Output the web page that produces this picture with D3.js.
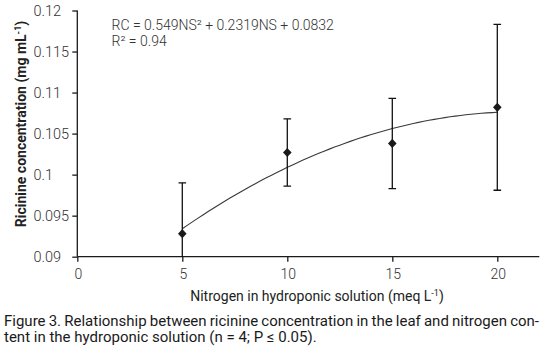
<!DOCTYPE html>
<html>
<head>
<meta charset="utf-8">
<script src="https://cdn.jsdelivr.net/npm/d3@7"></script>
<style>
  html, body { margin: 0; padding: 0; background: #fff; }
  svg { display: block; }
</style>
</head>
<body>
<svg id="chart" width="548" height="349"></svg>
<script>
// ---- data ----
const nitrogen = [5, 10, 15, 20];                     // meq L-1
const ricinine = [0.0928, 0.1027, 0.1038, 0.1082];     // mg mL-1
const errorBars = [0.0062, 0.0041, 0.0055, 0.0101];    // +/- error
const xTicks = [0, 5, 10, 15, 20];
const yTicks = [0.09, 0.095, 0.1, 0.105, 0.11, 0.115, 0.12];
const yTickLabels = ["0.09", "0.095", "0.1", "0.105", "0.11", "0.115", "0.12"];
const equationLines = ["RC = 0.549NS² + 0.2319NS + 0.0832", "R² = 0.94"];
const yTitle = "Ricinine concentration (mg mL";
const xTitle = "Nitrogen in hydroponic solution (meq L";
const captionLines = [
  "Figure 3. Relationship between ricinine concentration in the leaf and nitrogen con-",
  "tent in the hydroponic solution (n = 4; P ≤ 0.05)."
];

// ---- layout ----
const svg = d3.select("#chart");
const pLeft = 77.3, pRight = 539.3, pTop = 10.5, pBottom = 256.7;
const x = d3.scaleLinear().domain([0, 22]).range([pLeft, pRight]);
const y = d3.scaleLinear().domain([0.09, 0.12]).range([pBottom, pTop]);
const axisColor = "#1a1a1a";
const tickFont = "Roboto, sans-serif";

// clip for plot area
svg.append("defs").append("clipPath").attr("id", "plot")
  .append("rect").attr("x", pLeft - 10).attr("y", pTop - 10)
  .attr("width", pRight - pLeft + 20).attr("height", pBottom - pTop + 10);

// ---- axes ----
const yAxis = svg.append("g").attr("transform", `translate(${pLeft},0)`)
  .call(d3.axisLeft(y).tickValues(yTicks).tickSize(5).tickFormat(""));
const xAxis = svg.append("g").attr("transform", `translate(0,${pBottom})`)
  .call(d3.axisBottom(x).tickValues(xTicks).tickSize(5).tickFormat(""));
[xAxis, yAxis].forEach(g => {
  g.select(".domain").attr("stroke", axisColor).attr("stroke-width", 1.3);
  g.selectAll(".tick line").attr("stroke", axisColor).attr("stroke-width", 1.3);
});
yAxis.select(".domain").attr("d", `M0,${pTop}V${pBottom}`);
xAxis.select(".domain").attr("d", `M${pLeft},0H${pRight}`);

// y tick labels (left aligned, as in the reference)
svg.append("g").selectAll("text").data(yTicks).join("text")
  .attr("x", 33.5).attr("y", d => y(d)).attr("dy", "0.36em")
  .attr("font-family", tickFont).attr("font-weight", 300)
  .attr("font-size", 14.5).attr("fill", "#333")
  .text((d, i) => yTickLabels[i]);

// x tick labels
svg.append("g").selectAll("text").data(xTicks).join("text")
  .attr("x", d => x(d) + 1).attr("y", 279.3)
  .attr("text-anchor", "middle")
  .attr("font-family", tickFont).attr("font-weight", 300)
  .attr("font-size", 14).attr("fill", "#333")
  .text(d => d);

// ---- trend line: least squares quadratic fit of the data ----
function quadFit(xs, ys) {
  const n = xs.length;
  let s = Array(5).fill(0), t = Array(3).fill(0);
  for (let i = 0; i < n; i++) {
    for (let k = 0; k < 5; k++) s[k] += Math.pow(xs[i], k);
    for (let k = 0; k < 3; k++) t[k] += ys[i] * Math.pow(xs[i], k);
  }
  const A = [[s[0], s[1], s[2], t[0]], [s[1], s[2], s[3], t[1]], [s[2], s[3], s[4], t[2]]];
  for (let c = 0; c < 3; c++) {
    for (let r = c + 1; r < 3; r++) {
      const f = A[r][c] / A[c][c];
      for (let k = c; k < 4; k++) A[r][k] -= f * A[c][k];
    }
  }
  const coef = [0, 0, 0];
  for (let r = 2; r >= 0; r--) {
    let v = A[r][3];
    for (let k = r + 1; k < 3; k++) v -= A[r][k] * coef[k];
    coef[r] = v / A[r][r];
  }
  return xv => coef[0] + coef[1] * xv + coef[2] * xv * xv;
}
const fit = quadFit(nitrogen, ricinine);
const xs = d3.range(0, 61).map(i => nitrogen[0] + (nitrogen[nitrogen.length - 1] - nitrogen[0]) * i / 60);
svg.append("path")
  .datum(xs)
  .attr("d", d3.line().x(d => x(d)).y(d => y(fit(d))))
  .attr("fill", "none").attr("stroke", "#3a3a3a").attr("stroke-width", 1.1);

// ---- error bars ----
const eb = svg.append("g").attr("clip-path", "url(#plot)")
  .attr("stroke", "#111").attr("stroke-width", 1.3);
nitrogen.forEach((n, i) => {
  const hi = ricinine[i] + errorBars[i], lo = ricinine[i] - errorBars[i];
  const yLo = Math.min(y(lo), pBottom);
  eb.append("line").attr("x1", x(n)).attr("x2", x(n)).attr("y1", y(hi)).attr("y2", yLo);
  eb.append("line").attr("x1", x(n) - 3.8).attr("x2", x(n) + 3.8).attr("y1", y(hi)).attr("y2", y(hi));
  if (y(lo) <= pBottom) {
    eb.append("line").attr("x1", x(n) - 3.8).attr("x2", x(n) + 3.8).attr("y1", y(lo)).attr("y2", y(lo));
  }
});

// ---- markers (diamonds) ----
svg.append("g").selectAll("path").data(nitrogen).join("path")
  .attr("transform", (d, i) => `translate(${x(d)},${y(ricinine[i])})`)
  .attr("d", "M0,-4.6L4.3,0L0,4.6L-4.3,0Z")
  .attr("fill", "#1a1a1a");

// ---- equation ----
svg.append("g").selectAll("text").data(equationLines).join("text")
  .attr("x", 111.5).attr("y", (d, i) => 30 + i * 16)
  .attr("font-family", tickFont).attr("font-weight", 300)
  .attr("font-size", 14).attr("fill", "#333")
  .text(d => d);

// ---- axis titles ----
const yt = svg.append("text")
  .attr("transform", "translate(25.5,124) rotate(-90)")
  .attr("text-anchor", "middle")
  .attr("font-family", tickFont).attr("font-weight", 700)
  .attr("font-size", 14).attr("fill", "#222");
yt.append("tspan").text(yTitle);
yt.append("tspan").attr("baseline-shift", "super").attr("font-size", 9).text("-1");
yt.append("tspan").text(")");

const xt = svg.append("text")
  .attr("x", 317).attr("y", 300.5)
  .attr("text-anchor", "middle")
  .attr("font-family", tickFont).attr("font-weight", 400)
  .attr("font-size", 14).attr("fill", "#222");
xt.append("tspan").text(xTitle);
xt.append("tspan").attr("baseline-shift", "super").attr("font-size", 9).text("-1");
xt.append("tspan").text(")");

// ---- caption (first line justified) ----
const cap = svg.append("g").attr("font-family", tickFont).attr("font-weight", 400)
  .attr("font-size", 15).attr("fill", "#1a1a1a");
captionLines.forEach((line, i) => {
  const t = cap.append("text").attr("x", 4).attr("y", 325.8 + i * 16.4).text(line);
  if (i === 0) {
    const natural = t.node().getComputedTextLength();
    const spaces = (line.match(/ /g) || []).length;
    const target = 535;
    if (spaces > 0) t.attr("word-spacing", (target - natural) / spaces);
  }
});
</script>
</body>
</html>
